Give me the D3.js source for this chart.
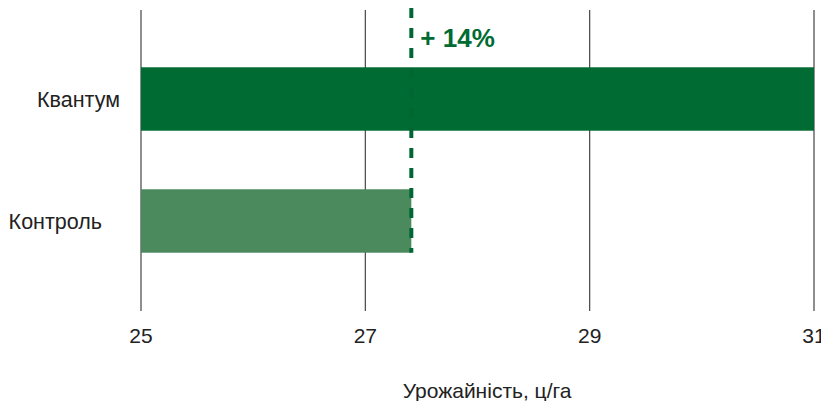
<!DOCTYPE html>
<html>
<head>
<meta charset="utf-8">
<script src="https://cdn.jsdelivr.net/npm/d3@7"></script>
<style>
  body { margin: 0; background: #fff; }
  text { font-family: "Liberation Sans", Arial, sans-serif; fill: #222; }
</style>
</head>
<body>
<svg id="chart" width="821" height="401"></svg>
<script>
var categories = ["Квантум", "Контроль"];
var values = [31.0, 27.41];
var tickValues = [25, 27, 29, 31];
var increaseLabel = "+ 14%";
var axisTitle = "Урожайність, ц/га";

var svg = d3.select("#chart");

var x = d3.scaleLinear()
    .domain([25, 31])
    .range([141, 814]);

var y = d3.scaleBand()
    .domain(categories)
    .range([38, 282])
    .paddingInner(0.48)
    .paddingOuter(0.24);

// gridlines
svg.selectAll("line.grid")
   .data(tickValues)
   .enter()
   .append("line").attr("class", "grid")
   .attr("x1", function (d) { return x(d); })
   .attr("x2", function (d) { return x(d); })
   .attr("y1", 10).attr("y2", 311)
   .attr("stroke", "#444").attr("stroke-width", 1.2);

var colors = ["#006b33", "#4a8a5c"];

svg.selectAll("rect.bar")
   .data(values)
   .enter()
   .append("rect").attr("class", "bar")
   .attr("x", x(25))
   .attr("y", function (d, i) { return y(categories[i]); })
   .attr("width", function (d) { return x(d) - x(25); })
   .attr("height", y.bandwidth())
   .attr("fill", function (d, i) { return colors[i]; });

// dashed reference line at control value
svg.append("line")
   .attr("x1", x(values[1])).attr("x2", x(values[1]))
   .attr("y1", 8).attr("y2", y(categories[1]) + y.bandwidth())
   .attr("stroke", "#006633").attr("stroke-width", 4)
   .attr("stroke-dasharray", "10,10");

svg.append("text")
   .attr("x", x(values[1]) + 9).attr("y", 47)
   .style("font-size", "26px").style("font-weight", "bold")
   .style("fill", "#006b33")
   .text(increaseLabel);

// category labels
var labelRight = [120, 102];
svg.selectAll("text.cat")
   .data(categories)
   .enter()
   .append("text").attr("class", "cat")
   .attr("x", function (d, i) { return labelRight[i]; })
   .attr("y", function (d) { return y(d) + y.bandwidth() / 2 + 8; })
   .attr("text-anchor", "end")
   .style("font-size", "21.5px")
   .text(function (d) { return d; });

// tick labels
svg.selectAll("text.tick")
   .data(tickValues)
   .enter()
   .append("text").attr("class", "tick")
   .attr("x", function (d) { return x(d); })
   .attr("y", 343)
   .attr("text-anchor", "middle")
   .style("font-size", "21px")
   .text(function (d) { return d; });

svg.append("text")
   .attr("x", 487).attr("y", 398)
   .attr("text-anchor", "middle")
   .style("font-size", "21px")
   .text(axisTitle);
</script>
</body>
</html>
